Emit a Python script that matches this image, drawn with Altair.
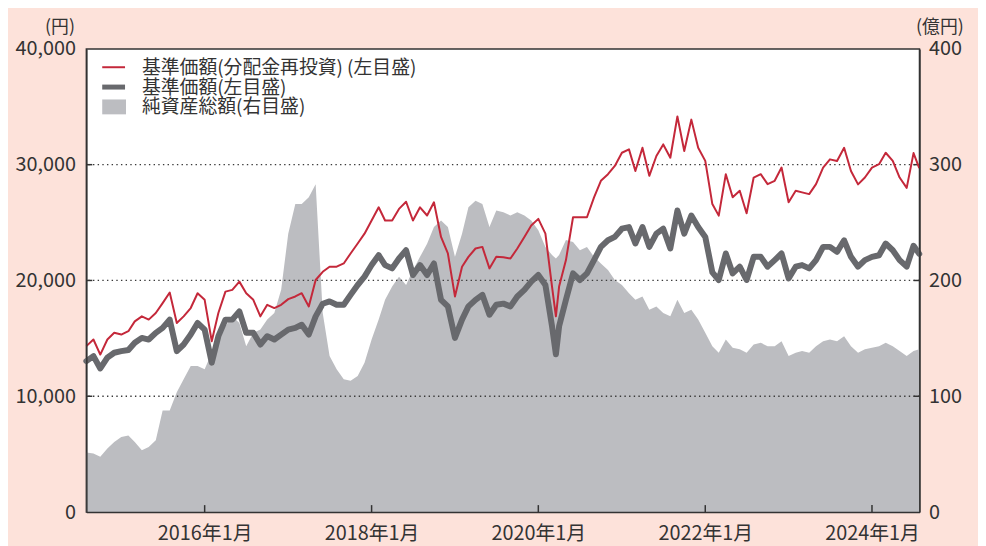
import altair as alt
import pandas as pd

# ---------------- data ----------------
month_dates = [d.strftime("%Y-%m-%d") for d in pd.date_range("2014-08-01", "2024-07-01", freq="MS")] + ["2024-07-26"]

red = [14330, 14900, 13600, 14900, 15480, 15330, 15620, 16470, 16900, 16620,
       17190, 18040, 18960, 16330, 16900, 17620, 18900, 18330, 14760, 17190,
       19040, 19190, 19900, 18900, 18330, 16900, 17900, 17620, 17900, 18390,
       18620, 18900, 17760, 20040, 20750, 21190, 21190, 21470, 22330, 23190,
       24040, 25180, 26320, 25180, 25180, 26180, 26800, 25180, 26320, 25610,
       26750, 23760, 22330, 18620, 21190, 22040, 22760, 22900, 21040, 22040,
       22010, 21900, 22760, 23760, 24750, 25320, 24040, 19470, 19470, 21760,
       25460, 25460, 25460, 27180, 28610, 29180, 29890, 31030, 31320, 29460,
       31460, 29040, 30750, 31750, 30600, 34170, 31180, 33890, 31460, 30330,
       26600, 25600, 29180, 27180, 27750, 25800, 28890, 29180, 28320, 28610,
       29750, 26750, 27750, 27610, 27460, 28320, 29750, 30460, 30320, 31460,
       29460, 28300, 28890, 29750, 30040, 31030, 30320, 28890, 28000, 31000,
       29700]

nav = [13040, 13470, 12400, 13330, 13760, 13900, 13990, 14620, 15040, 14900,
       15480, 15900, 16620, 13900, 14470, 15330, 16330, 15760, 12900, 15190,
       16620, 16620, 17330, 15480, 15480, 14470, 15190, 14900, 15330, 15760,
       15900, 16180, 15330, 16900, 17990, 18190, 17900, 17900, 18760, 19610,
       20330, 21330, 22180, 21330, 21040, 21900, 22610, 20470, 21330, 20470,
       21470, 18330, 17760, 15040, 16620, 17760, 18330, 18760, 17040, 17900,
       18000, 17760, 18620, 19190, 19900, 20470, 19610, 16040, 16040, 18330,
       20610, 20040, 20610, 21760, 22900, 23470, 23760, 24470, 24610, 23190,
       24610, 22900, 24040, 24470, 22760, 26040, 24040, 25610, 24610, 23760,
       20700, 20040, 22330, 20610, 21190, 20040, 22040, 22040, 21190, 21760,
       22330, 20180, 21190, 21330, 21040, 21760, 22900, 22900, 22470, 23470,
       22040, 21190, 21760, 22040, 22180, 23190, 22610, 21760, 21190, 23000,
       22300]

aum = [51.4, 50.6, 47.7, 54.8, 60.5, 64.8, 66.2, 60.5, 53.4, 56.2,
       62.0, 87.6, 87.6, 103.4, 114.8, 126.2, 126.2, 123.3, 137.6, 154.8,
       160.5, 169.0, 163.3, 143.3, 154.8, 157.6, 166.2, 171.9, 191.9, 240.4,
       266.1, 266.1, 271.8, 283.2, 171.9, 134.7, 123.3, 114.8, 113.4, 117.6,
       129.0, 149.0, 166.2, 183.3, 194.7, 203.2, 196.1, 208.9, 220.4, 231.8,
       246.1, 251.8, 246.1, 220.4, 240.4, 263.2, 268.9, 266.1, 246.1, 260.4,
       258.9, 256.1, 258.9, 256.1, 251.8, 243.3, 229.0, 222.0, 222.0, 235.0,
       233.2, 226.1, 229.0, 220.4, 214.7, 209.0, 200.4, 196.1, 189.0, 183.3,
       186.1, 174.7, 177.6, 171.9, 169.0, 183.3, 171.9, 174.7, 166.2, 154.8,
       143.3, 137.6, 149.0, 141.9, 140.5, 137.6, 144.7, 146.2, 143.3, 143.3,
       147.6, 134.7, 137.6, 139.0, 137.6, 143.3, 147.6, 149.0, 147.6, 151.9,
       143.3, 137.6, 140.5, 141.9, 143.3, 146.2, 143.3, 139.0, 134.7, 139.0,
       140.5]

# extra point at the bottom of the 2020 crash
extra_dates = ["2020-03-18"]
extra_red = [16900]
extra_nav = [13620]
extra_aum = [219.0]

left_ticks = [0, 10000, 20000, 30000, 40000]
right_ticks = [0, 100, 200, 300, 400]
grid_values = [10000, 20000, 30000]
x_tick_years = [2016, 2018, 2020, 2022, 2024]

legend_labels = ["基準価額(分配金再投資) (左目盛)", "基準価額(左目盛)", "純資産総額(右目盛)"]

# ---------------- build tables ----------------
df = pd.DataFrame({
    "date": pd.to_datetime(month_dates + extra_dates),
    "red": red + extra_red,
    "nav": nav + extra_nav,
    "aum": aum + extra_aum,
}).sort_values("date")

grid_df = pd.DataFrame({"v": grid_values})
xtick_df = pd.DataFrame({"d": pd.to_datetime([f"{y}-01-01" for y in x_tick_years])})
one = pd.DataFrame({"k": [0]})

FONT = "Noto Sans CJK JP"
RED = "#c4283a"
DARK = "#68696d"
AREA = "#bcbdc1"
TXT = "#333333"

W, H = 840, 467

x_domain = [alt.DateTime(year=2014, month=8, date=1), alt.DateTime(year=2024, month=7, date=27)]

x_enc = alt.X(
    "date:T",
    scale=alt.Scale(domain=x_domain),
    axis=alt.Axis(values=[alt.DateTime(year=y, month=1, date=1) for y in x_tick_years],
                  labelExpr="timeFormat(datum.value, '%Y') + '年' + timeFormat(datum.value, '%-m') + '月'",
                  ticks=False, tickSize=0, grid=False,
                  domain=True, domainColor="#333", domainWidth=1.5,
                  labelPadding=12, title=None, zindex=1),
)

left_scale = alt.Scale(domain=[0, 40000], nice=False)
left_axis = alt.Axis(values=left_ticks, labelExpr="format(datum.value, ',')",
                     ticks=False, tickSize=0, grid=False,
                     domain=True, domainColor="#333", domainWidth=1.5,
                     labelPadding=11, title="(円)", titleAngle=0, titleAlign="right",
                     titleBaseline="middle", titleX=-12, titleY=-22, zindex=1)

right_axis = alt.Axis(orient="right", values=right_ticks, labelExpr="format(datum.value, ',')",
                      ticks=False, tickSize=0, grid=False,
                      domain=True, domainColor="#333", domainWidth=1.5,
                      labelPadding=9, title="(億円)", titleAngle=0, titleAlign="left",
                      titleBaseline="middle", titleX=-4, titleY=-22, zindex=1)

area = alt.Chart(df).mark_area(color=AREA, opacity=1).encode(
    x=x_enc,
    y=alt.Y("aum:Q", scale=alt.Scale(domain=[0, 400], nice=False), axis=right_axis),
)

grid = alt.Chart(grid_df).mark_rule(color="#3a3a3a", strokeDash=[1.4, 3.3], strokeWidth=1.3).encode(
    y=alt.Y("v:Q", scale=left_scale, axis=left_axis)
)
lticks = alt.Chart(grid_df).mark_rule(color="#333", strokeWidth=1.5).encode(
    y=alt.Y("v:Q", scale=left_scale, axis=left_axis), x=alt.value(0), x2=alt.value(6)
)
rticks = alt.Chart(grid_df).mark_rule(color="#333", strokeWidth=1.5).encode(
    y=alt.Y("v:Q", scale=left_scale, axis=left_axis), x=alt.value(W - 6), x2=alt.value(W)
)
xticks = alt.Chart(xtick_df).mark_rule(color="#333", strokeWidth=1.5).encode(
    x=alt.X("d:T", scale=alt.Scale(domain=x_domain)),
    y=alt.value(H - 7), y2=alt.value(H)
)

nav_line = alt.Chart(df).mark_line(color=DARK, strokeWidth=6, strokeJoin="round", strokeCap="round").encode(
    x=x_enc, y=alt.Y("nav:Q", scale=left_scale, axis=left_axis)
)
red_line = alt.Chart(df).mark_line(color=RED, strokeWidth=2, strokeJoin="round").encode(
    x=x_enc, y=alt.Y("red:Q", scale=left_scale, axis=left_axis)
)

# legend (inside plot, top-left)
leg_red = alt.Chart(one).mark_rule(color=RED, strokeWidth=2).encode(
    x=alt.value(16), x2=alt.value(39), y=alt.value(18.5))
leg_dark = alt.Chart(one).mark_rule(color=DARK, strokeWidth=5).encode(
    x=alt.value(16), x2=alt.value(39), y=alt.value(38.5))
leg_area = alt.Chart(one).mark_rect(color=AREA).encode(
    x=alt.value(16), x2=alt.value(40), y=alt.value(51), y2=alt.value(66))
leg_texts = [
    alt.Chart(pd.DataFrame({"t": [lab]})).mark_text(
        align="left", baseline="middle", font=FONT, fontSize=19, color=TXT
    ).encode(x=alt.value(56), y=alt.value(yy), text="t:N")
    for lab, yy in zip(legend_labels, [19.5, 39, 59])
]

left_group = alt.layer(grid, lticks, rticks, xticks, nav_line, red_line,
                       leg_red, leg_dark, leg_area, *leg_texts)

chart = alt.layer(area, left_group).resolve_scale(y="independent").properties(
    width=W, height=H,
    padding={"left": 79, "top": 39, "right": 59, "bottom": 32},
    autosize=alt.AutoSizeParams(type="none"),
    background="#fde2da",
).configure_view(
    fill="white", stroke="#333", strokeWidth=1.5
).configure_axis(
    labelFont=FONT, labelFontSize=20, labelColor=TXT,
    titleFont=FONT, titleFontSize=18, titleColor=TXT, titleFontWeight="normal",
)

chart.save("out.html", embed_options={"renderer": "svg", "actions": False})
